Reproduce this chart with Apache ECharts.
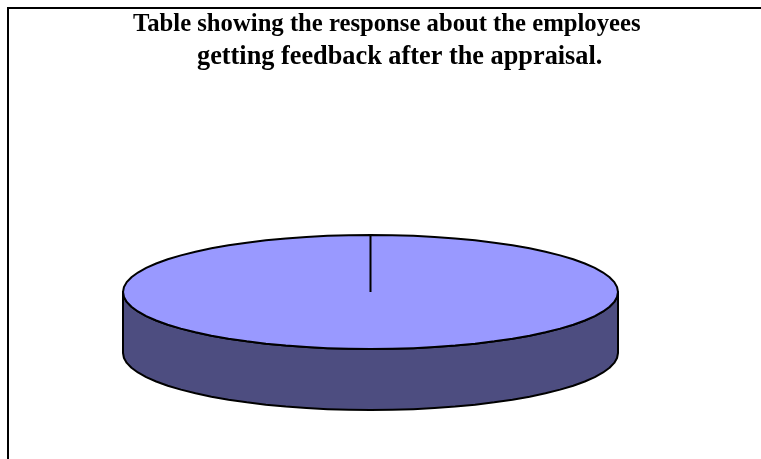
<!DOCTYPE html>
<html>
<head>
<meta charset="utf-8">
<script src="https://cdn.jsdelivr.net/npm/echarts@6/dist/echarts.min.js"></script>
<style>
  html, body { margin: 0; padding: 0; background: #ffffff; }
  #chart { width: 761px; height: 459px; }
</style>
</head>
<body>
<div id="chart"></div>
<script>
// Survey answers: did employees get feedback after the appraisal?
const responses = ['Yes'];
const responseCounts = [100];

const titleLines = [
  'Table showing the response about the employees',
  'getting feedback after the appraisal.'
];

// Tilted-disc geometry for the 3D pie
const PIE = { cx: 370.5, cy: 292, rx: 247.5, ry: 57, depth: 61, steps: 72 };
const TOP_COLOR = '#9999ff';
const SIDE_COLOR = '#4d4d80';

const total = responseCounts.reduce((a, b) => a + b, 0);
const sliceAngles = [];
{
  let acc = 0;
  responseCounts.forEach(v => {
    const a0 = acc / total * Math.PI * 2;
    acc += v;
    const a1 = acc / total * Math.PI * 2;
    sliceAngles.push([a0, a1]);
  });
}

// angle measured clockwise from 12 o'clock
function rimPoint(theta, dy) {
  return [PIE.cx + PIE.rx * Math.sin(theta), PIE.cy - PIE.ry * Math.cos(theta) + (dy || 0)];
}

function arcPoints(a0, a1, dy) {
  const pts = [];
  const n = Math.max(2, Math.ceil((a1 - a0) / (Math.PI * 2) * PIE.steps));
  for (let i = 0; i <= n; i++) {
    pts.push(rimPoint(a0 + (a1 - a0) * i / n, dy));
  }
  return pts;
}

function renderSlice(params, api) {
  const idx = params.dataIndex;
  const [a0, a1] = sliceAngles[idx];
  if (a1 - a0 <= 0) return null;
  const children = [];

  // front wall: the part of the rim facing the viewer (between 3 and 9 o'clock)
  const f0 = Math.max(a0, Math.PI / 2);
  const f1 = Math.min(a1, Math.PI * 3 / 2);
  if (f1 > f0) {
    const upper = arcPoints(f0, f1, 0);
    const lower = arcPoints(f0, f1, PIE.depth).reverse();
    children.push({
      type: 'polygon',
      shape: { points: upper.concat(lower) },
      style: { fill: SIDE_COLOR, stroke: '#000000', lineWidth: 2, lineJoin: 'round' }
    });
  }

  // top face of the slice
  const top = [[PIE.cx, PIE.cy]].concat(arcPoints(a0, a1, 0));
  children.push({
    type: 'polygon',
    shape: { points: top },
    style: { fill: TOP_COLOR, stroke: '#000000', lineWidth: 2, lineJoin: 'miter' }
  });

  return { type: 'group', children: children };
}

const chart = echarts.init(document.getElementById('chart'), null, { renderer: 'canvas' });

const titleFont = '"Liberation Serif", "Times New Roman", serif';

chart.setOption({
  backgroundColor: '#ffffff',
  animation: false,
  title: [
    {
      text: titleLines[0], left: 133, top: 12, padding: 0,
      textStyle: { fontFamily: titleFont, fontWeight: 'bold', fontSize: 24.7, color: '#000000' }
    },
    {
      text: titleLines[1], left: 197, top: 44, padding: 0,
      textStyle: { fontFamily: titleFont, fontWeight: 'bold', fontSize: 26.3, color: '#000000' }
    }
  ],
  graphic: [
    {
      type: 'rect',
      shape: { x: 8, y: 8, width: 800, height: 500 },
      style: { fill: 'none', stroke: '#000000', lineWidth: 2 },
      silent: true
    }
  ],
  series: [
    {
      type: 'custom',
      coordinateSystem: 'none',
      renderItem: renderSlice,
      data: responses.map((name, i) => ({ name: name, value: responseCounts[i] }))
    }
  ]
});
</script>
</body>
</html>
